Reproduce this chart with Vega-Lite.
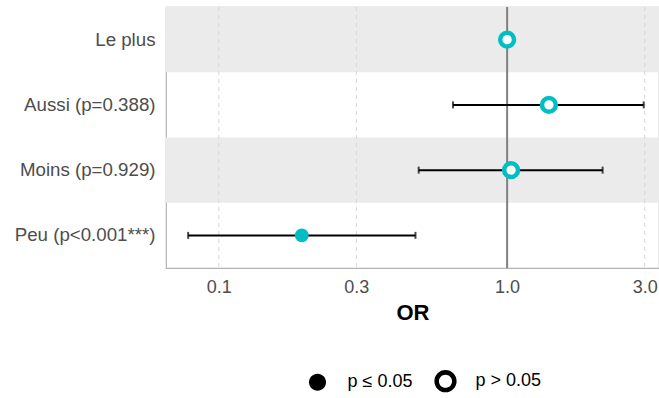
{
  "$schema": "https://vega.github.io/schema/vega-lite/v6.json",
  "width": 493,
  "height": 261,
  "autosize": "none",
  "padding": {"left": 166, "top": 7, "right": 0, "bottom": 130},
  "background": "white",
  "config": {
    "view": {"stroke": "#b3b3b3", "strokeWidth": 1.2},
    "font": "Liberation Sans"
  },
  "datasets": {
    "rows": [
      {"label": "Le plus", "or": 1.0, "low": null, "high": null, "sig": "p > 0.05", "shade": "grey"},
      {"label": "Aussi (p=0.388)", "or": 1.396, "low": 0.649, "high": 2.976, "sig": "p > 0.05", "shade": "white"},
      {"label": "Moins (p=0.929)", "or": 1.032, "low": 0.4935, "high": 2.144, "sig": "p > 0.05", "shade": "grey"},
      {"label": "Peu (p<0.001***)", "or": 0.194, "low": 0.0783, "high": 0.481, "sig": "p ≤ 0.05", "shade": "white"}
    ],
    "grid": [{"v": 0.1}, {"v": 0.3}, {"v": 1.0}, {"v": 3.0}],
    "ref": [{"v": 1.0}]
  },
  "layer": [
    {
      "data": {"name": "rows"},
      "transform": [{"filter": "datum.shade === 'grey'"}],
      "mark": {"type": "rect", "fill": "#EBEBEB"},
      "encoding": {
        "y": {"field": "label", "type": "nominal", "sort": ["Le plus", "Aussi (p=0.388)", "Moins (p=0.929)", "Peu (p<0.001***)"],
              "scale": {"paddingInner": 0, "paddingOuter": 0},
              "axis": {"title": null, "domain": false, "ticks": false, "labelFontSize": 18.7, "labelColor": "#4D4D4D", "labelPadding": 11, "labelFont": "Liberation Sans"}}
      }
    },
    {
      "data": {"name": "grid"},
      "mark": {"type": "rule", "stroke": "#D6D6D6", "strokeWidth": 1, "strokeDash": [4, 4]},
      "encoding": {"x": {"field": "v", "type": "quantitative"}}
    },
    {
      "data": {"name": "ref"},
      "mark": {"type": "rule", "stroke": "#808080", "strokeWidth": 2},
      "encoding": {"x": {"field": "v", "type": "quantitative"}}
    },
    {
      "data": {"name": "rows"},
      "transform": [{"filter": "isValid(datum.low)"}],
      "mark": {"type": "rule", "stroke": "black", "strokeWidth": 2},
      "encoding": {
        "y": {"field": "label", "type": "nominal", "sort": ["Le plus", "Aussi (p=0.388)", "Moins (p=0.929)", "Peu (p<0.001***)"]},
        "x": {"field": "low", "type": "quantitative"},
        "x2": {"field": "high"}
      }
    },
    {
      "data": {"name": "rows"},
      "transform": [{"filter": "isValid(datum.low)"}],
      "mark": {"type": "tick", "color": "black", "thickness": 2, "size": 7, "orient": "vertical"},
      "encoding": {
        "y": {"field": "label", "type": "nominal", "sort": ["Le plus", "Aussi (p=0.388)", "Moins (p=0.929)", "Peu (p<0.001***)"]},
        "x": {"field": "low", "type": "quantitative"}
      }
    },
    {
      "data": {"name": "rows"},
      "transform": [{"filter": "isValid(datum.high)"}],
      "mark": {"type": "tick", "color": "black", "thickness": 2, "size": 7, "orient": "vertical"},
      "encoding": {
        "y": {"field": "label", "type": "nominal", "sort": ["Le plus", "Aussi (p=0.388)", "Moins (p=0.929)", "Peu (p<0.001***)"]},
        "x": {"field": "high", "type": "quantitative"}
      }
    },
    {
      "data": {"name": "rows"},
      "mark": {"type": "point", "filled": true, "color": "black", "opacity": 1, "strokeWidth": 0, "size": 0},
      "encoding": {
        "y": {"field": "label", "type": "nominal", "sort": ["Le plus", "Aussi (p=0.388)", "Moins (p=0.929)", "Peu (p<0.001***)"]},
        "x": {"field": "or", "type": "quantitative"},
        "shape": {"field": "sig", "type": "nominal",
                  "scale": {"domain": ["p ≤ 0.05", "p > 0.05"],
                            "range": ["M-0.765,0A0.765,0.765 0 1,0 0.765,0A0.765,0.765 0 1,0 -0.765,0Z",
                                      "M-1,0A1,1 0 1,0 1,0A1,1 0 1,0 -1,0ZM-0.59,0A0.59,0.59 0 1,1 0.59,0A0.59,0.59 0 1,1 -0.59,0Z"]},
                  "legend": {"title": null, "orient": "none", "direction": "horizontal", "legendX": 140, "legendY": 362.5,
                             "labelFontSize": 18, "labelColor": "black", "labelFont": "Liberation Sans", "labelOffset": 18.5, "columnPadding": 21,
                             "symbolSize": 494, "symbolFillColor": "black", "symbolStrokeWidth": 0, "symbolOpacity": 1}}
      }
    },
    {
      "data": {"name": "rows"},
      "transform": [{"filter": "datum.sig === 'p ≤ 0.05'"}],
      "mark": {"type": "point", "shape": "circle", "filled": true, "size": 190, "fill": "#00BFC4", "strokeWidth": 0, "opacity": 1},
      "encoding": {
        "y": {"field": "label", "type": "nominal", "sort": ["Le plus", "Aussi (p=0.388)", "Moins (p=0.929)", "Peu (p<0.001***)"]},
        "x": {"field": "or", "type": "quantitative"}
      }
    },
    {
      "data": {"name": "rows"},
      "transform": [{"filter": "datum.sig === 'p > 0.05'"}],
      "mark": {"type": "point", "shape": "circle", "filled": true, "size": 190, "fill": "white", "stroke": "#00BFC4", "strokeWidth": 4.5, "opacity": 1},
      "encoding": {
        "y": {"field": "label", "type": "nominal", "sort": ["Le plus", "Aussi (p=0.388)", "Moins (p=0.929)", "Peu (p<0.001***)"]},
        "x": {"field": "or", "type": "quantitative",
              "scale": {"type": "log", "domain": [0.0656, 3.363], "nice": false},
              "axis": {"title": "OR", "values": [0.1, 0.3, 1, 3], "format": ".1f", "grid": false, "domain": false, "ticks": false,
                       "labelFontSize": 18, "labelColor": "#4D4D4D", "labelPadding": 10, "labelFont": "Liberation Sans",
                       "titleFontSize": 22, "titleFontWeight": "bold", "titleColor": "black", "titlePadding": 6, "titleFont": "Liberation Sans"}}
      }
    }
  ]
}
